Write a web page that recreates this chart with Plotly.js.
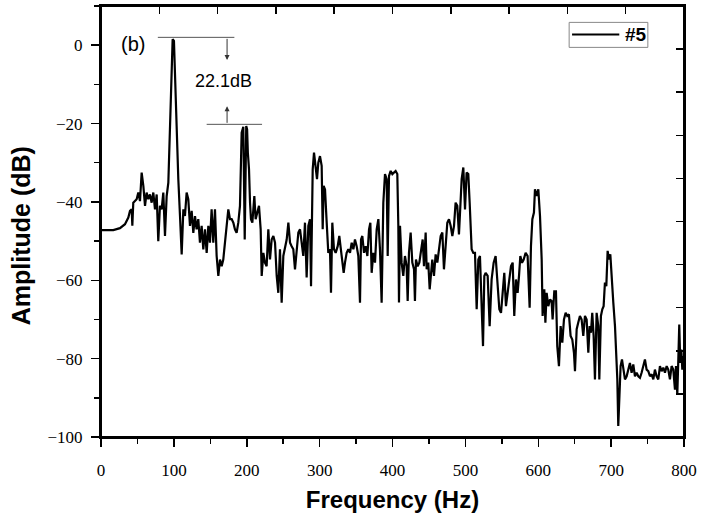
<!DOCTYPE html>
<html>
<head>
<meta charset="utf-8">
<script src="https://cdn.plot.ly/plotly-3.0.1.min.js"></script>
<style>
html, body { margin: 0; padding: 0; background: #fff; }
#plot { width: 703px; height: 520px; }
</style>
</head>
<body>
<div id="plot"></div>
<script>
// spectrum of sensor #5
const freq = [
  0, 7.7, 16.9, 26.0, 32.9, 37.5, 39.8, 42.1, 43.0, 44.3, 48.9, 51.2, 53.5, 55.8, 58.1, 60.4,
  62.6, 64.9, 67.2, 69.5, 71.8, 74.1, 76.4, 78.6, 80.9, 83.2, 85.5, 87.8, 90.1, 92.4, 94.7, 96.9,
  98.3, 100.1, 101.5, 103.8, 106.1, 108.4, 110.7, 113.0, 115.2, 117.5, 119.8, 122.1, 124.4, 126.7,
  129.0, 131.2, 133.5, 135.8, 138.1, 140.4, 142.7, 145.0, 147.3, 149.5, 151.8, 154.1, 156.4, 158.7,
  161.0, 163.3, 165.6, 167.8, 170.1, 172.4, 174.7, 177.0, 179.3, 181.6, 183.8, 186.1, 188.4, 190.7,
  193.0, 195.3, 197.2, 199.3, 200.5, 201.5, 203.1, 204.5, 205.8, 207.7, 210.4, 212.2, 215.0, 216.8,
  219.1, 220.5, 222.8, 225.0, 227.3, 229.6, 231.9, 234.2, 236.5, 238.8, 241.1, 243.3, 245.6, 247.9,
  250.2, 252.5, 254.8, 257.1, 259.4, 261.6, 263.9, 266.2, 268.5, 270.8, 273.1, 275.4, 277.6, 279.9,
  282.2, 284.5, 286.8, 288.2, 289.1, 290.5, 292.3, 294.6, 296.4, 298.2, 300.5, 302.8, 304.2, 305.5,
  307.4, 309.7, 311.9, 314.2, 315.6, 317.4, 319.7, 322.0, 324.8, 327.0, 329.3, 331.2, 333.0, 334.8,
  337.1, 339.4, 341.7, 344.0, 346.3, 348.5, 350.8, 353.1, 355.4, 356.8, 358.6, 360.9, 363.2, 365.5,
  367.8, 369.6, 371.4, 373.7, 376.0, 378.3, 380.6, 382.8, 385.1, 387.4, 389.7, 392.0, 393.4, 395.2,
  397.5, 399.8, 402.1, 404.3, 406.6, 408.0, 408.9, 410.3, 412.5, 414.8, 417.1, 419.4, 420.8, 422.6,
  424.9, 427.2, 429.5, 430.8, 432.2, 434.5, 436.8, 439.1, 441.4, 443.2, 445.5, 446.9, 449.1, 451.0,
  452.8, 454.6, 456.9, 459.2, 461.5, 463.8, 466.1, 468.4, 470.6, 472.9, 475.2, 477.5, 479.8, 482.1,
  484.4, 486.6, 488.9, 491.2, 493.1, 494.9, 497.2, 499.5, 501.7, 504.0, 505.9, 508.6, 510.9, 513.2,
  515.5, 517.8, 520.0, 522.3, 524.2, 526.0, 527.8, 530.6, 533.3, 536.0, 538.8, 541.5, 544.3, 546.6,
  548.9, 551.1, 553.4, 555.7, 558.0, 560.3, 562.6, 564.9, 567.1, 569.4, 571.7, 573.6, 575.4, 577.7,
  580.0, 582.7, 585.4, 588.2, 590.0, 591.9, 594.1, 595.5, 597.8, 600.1, 602.4, 604.7, 606.0, 608.3,
  609.8, 611.5, 613.8, 616.1, 618.3, 619.7, 622.0, 624.3, 626.1, 628.4, 630.7, 633.0, 635.3, 637.6,
  639.8, 642.1, 644.4, 646.7, 649.0, 650.4, 652.7, 654.9, 657.2, 659.5, 661.8, 664.1, 666.4, 668.7,
  670.5, 672.3, 674.1, 676.0, 677.8, 680.1, 682.4, 683.8, 686.0, 687.9, 689.7, 691.5, 693.4, 695.2,
  697.0, 698.9, 700.7, 703.0, 705.3, 706.6, 708.5, 709.8, 711.2, 713.0, 714.9, 717.2, 719.0, 721.3,
  723.6, 725.8, 728.1, 730.4, 732.7, 735.0, 737.3, 739.6, 741.8, 744.1, 746.4, 748.7, 751.0, 753.3,
  755.6, 757.9, 760.1, 762.4, 764.7, 767.0, 769.3, 771.6, 773.9, 776.2, 778.4, 780.7, 783.0, 785.3,
  787.6, 789.0, 790.8, 792.2, 793.5, 794.9, 796.3, 797.7, 799.0, 800
];
const amp = [
  -47.2, -47.2, -47.2, -46.7, -45.7, -44.0, -42.3, -41.9, -46.1, -40.2, -39.3, -37.6, -39.8, -32.5, -35.9, -41.0,
  -37.6, -39.3, -38.1, -40.2, -37.6, -41.9, -38.1, -50.0, -41.0, -41.9, -37.6, -48.7, -38.5, -35.1, -21.5, -4.4,
  1.5, 1.1, -8.7, -21.5, -34.2, -43.6, -53.4, -41.9, -43.6, -37.6, -39.3, -46.1, -42.3, -47.9,
  -43.6, -47.0, -44.4, -50.4, -46.1, -52.1, -47.0, -53.0, -46.1, -50.4, -41.9, -50.4, -41.9, -53.8,
  -58.9, -54.7, -56.4, -54.7, -50.4, -46.1, -41.9, -44.4, -44.4, -45.3, -47.0, -47.9, -45.3, -41.0,
  -22.3, -20.8, -49.6, -20.6, -21.5, -27.4, -31.7, -40.2, -44.4, -45.3, -38.5, -44.4, -41.9, -41.0,
  -47.0, -58.9, -53.0, -55.5, -56.4, -47.0, -54.7, -49.6, -48.7, -50.4, -58.9, -63.2, -52.1, -65.7,
  -53.8, -51.3, -49.6, -45.3, -50.4, -51.3, -52.1, -57.2, -51.3, -47.8, -47.0, -50.4, -53.8, -45.3,
  -59.3, -46.1, -44.4, -61.5, -41.0, -31.7, -27.4, -30.8, -34.2, -30.0, -28.3, -30.8, -47.0, -35.9,
  -36.8, -45.3, -53.0, -52.1, -63.2, -45.3, -52.1, -53.0, -51.3, -48.7, -52.1, -54.7, -58.1, -55.5,
  -53.0, -52.1, -53.0, -50.4, -52.1, -49.6, -51.3, -53.8, -65.7, -49.6, -48.7, -53.0, -51.3, -53.8,
  -47.0, -45.3, -58.1, -53.0, -55.5, -47.0, -44.4, -52.1, -65.7, -40.2, -32.9, -34.2, -53.8, -33.4,
  -32.1, -32.9, -32.5, -32.1, -32.9, -46.1, -65.7, -46.1, -55.5, -58.9, -53.8, -56.4, -65.3, -53.0,
  -47.8, -55.5, -57.2, -65.3, -54.7, -56.4, -55.5, -52.1, -49.6, -56.4, -47.8, -57.2, -55.5, -62.3,
  -58.9, -54.7, -58.9, -53.4, -55.5, -52.1, -48.7, -47.8, -57.2, -51.3, -45.3, -44.4, -46.1, -48.7,
  -46.1, -40.2, -41.0, -48.3, -41.0, -34.2, -31.2, -41.9, -32.5, -32.9, -40.2, -52.1, -53.0, -53.0,
  -67.4, -54.7, -53.8, -64.9, -76.8, -58.9, -58.1, -58.9, -71.7, -59.8, -55.5, -53.8, -61.5, -67.4,
  -68.3, -63.2, -58.1, -66.6, -63.2, -59.8, -56.4, -55.5, -69.1, -59.8, -63.2, -58.9, -53.8, -55.5,
  -54.7, -53.0, -53.8, -67.0, -51.3, -44.4, -42.7, -36.8, -38.5, -36.8, -43.6, -54.7, -69.1, -62.3,
  -70.8, -63.2, -66.6, -64.9, -65.3, -70.0, -62.8, -62.8, -76.8, -81.9, -71.7, -75.9, -70.0, -68.3,
  -69.1, -68.7, -74.2, -75.1, -78.5, -83.2, -72.5, -70.8, -69.1, -70.0, -74.2, -69.1, -70.0, -78.5,
  -71.7, -73.4, -68.3, -74.2, -85.3, -68.3, -71.7, -85.3, -69.1, -67.4, -66.6, -60.6, -61.5, -52.5,
  -54.7, -53.4, -59.8, -65.7, -71.7, -77.7, -85.3, -97.2, -90.4, -81.9, -80.2, -82.8, -85.3, -84.5,
  -82.8, -81.1, -83.6, -81.5, -84.5, -83.6, -84.5, -84.9, -83.6, -81.9, -80.2, -82.8, -83.2, -84.5,
  -84.0, -85.3, -82.8, -84.5, -85.3, -81.9, -83.2, -82.3, -83.6, -81.9, -82.8, -85.3, -81.9, -82.8,
  -87.9, -81.9, -89.2, -80.2, -71.3, -81.1, -77.7, -82.8, -79.4, -80.0
];
const seriesName = "#5";

const xRange = [0, 800];
const yRange = [-100, 10];

const tickFont = { family: "Liberation Serif", size: 17, color: "#000" };
const titleFont = { family: "Liberation Sans", size: 24, weight: "bold", color: "#000" };
const textFont = { family: "Liberation Sans", size: 18, color: "#000" };

const trace = {
  x: freq,
  y: amp,
  type: "scatter",
  mode: "lines",
  name: seriesName,
  showlegend: false,
  line: { color: "#000", width: 2.2 }
};

// empty trace so the top/right tick axes get their own subplot
const frameTrace = {
  x: [], y: [], xaxis: "x2", yaxis: "y2",
  type: "scatter", mode: "lines", showlegend: false, hoverinfo: "skip"
};

const axisBase = {
  showline: true,
  linecolor: "#000",
  linewidth: 2,
  mirror: true,
  showgrid: false,
  zeroline: false,
  tickcolor: "#000",
  tickwidth: 1.5,
  automargin: false
};

const layout = {
  width: 703,
  height: 520,
  margin: { l: 101, r: 19, t: 6, b: 83 },
  paper_bgcolor: "#fff",
  plot_bgcolor: "#fff",
  font: tickFont,
  showlegend: false,
  xaxis: Object.assign({}, axisBase, {
    range: xRange,
    tick0: 0, dtick: 100,
    ticks: "outside", ticklen: 8,
    minor: { dtick: 50, ticks: "outside", ticklen: 5, tickwidth: 1.5, tickcolor: "#000", showgrid: false },
    tickfont: tickFont,
    ticklabelstandoff: 9,
    title: { text: "Frequency (Hz)", font: titleFont, standoff: 12 }
  }),
  yaxis: Object.assign({}, axisBase, {
    range: yRange,
    tick0: 0, dtick: 20,
    ticks: "outside", ticklen: 8,
    minor: { dtick: 10, ticks: "outside", ticklen: 5, tickwidth: 1.5, tickcolor: "#000", showgrid: false },
    tickfont: tickFont,
    ticklabelstandoff: 5
  }),
  // Origin-style top and right axes with their own inside ticks
  xaxis2: Object.assign({}, axisBase, {
    overlaying: "x", side: "top", anchor: "y2",
    range: xRange, tick0: 0, dtick: 80,
    ticks: "inside", ticklen: 8, showticklabels: false
  }),
  yaxis2: Object.assign({}, axisBase, {
    overlaying: "y", side: "right", anchor: "x2",
    range: yRange, tick0: 10, dtick: 11,
    ticks: "inside", ticklen: 8, showticklabels: false
  }),
  shapes: [
    // plot frame
    { type: "rect", xref: "paper", yref: "paper", x0: 0, x1: 1, y0: 0, y1: 1,
      line: { color: "#000", width: 2 }, layer: "above" },
    // 22.1 dB marker lines
    { type: "line", xref: "x", yref: "y", x0: 78, x1: 183, y0: 2.0, y1: 2.0, line: { color: "#555", width: 1 } },
    { type: "line", xref: "x", yref: "y", x0: 145, x1: 221, y0: -20.2, y1: -20.2, line: { color: "#555", width: 1 } },
    // legend box and sample line
    { type: "rect", xref: "paper", yref: "paper", x0: 0.803, x1: 0.938, y0: 0.904, y1: 0.962,
      line: { color: "#888", width: 1 }, fillcolor: "#fff" },
    { type: "line", xref: "paper", yref: "paper", x0: 0.808, x1: 0.889, y0: 0.934, y1: 0.934,
      line: { color: "#000", width: 2 } }
  ],
  annotations: [
    { text: seriesName, xref: "paper", yref: "paper", x: 0.918, y: 0.934,
      xanchor: "center", yanchor: "middle", showarrow: false,
      font: { family: "Liberation Sans", size: 19, weight: "bold", color: "#000" } },
    { text: "Amplitude (dB)", xref: "paper", yref: "paper", x: -0.137, y: 0.466,
      xanchor: "center", yanchor: "middle",
      textangle: -90, showarrow: false, font: Object.assign({}, titleFont, { size: 25 }) },
    { text: "(b)", xref: "x", yref: "y", x: 44, y: 0.3, showarrow: false,
      font: Object.assign({}, textFont, { size: 20 }) },
    { text: "22.1dB", xref: "x", yref: "y", x: 167.5, y: -9.2, showarrow: false, font: textFont },
    { text: "", xref: "x", yref: "y", x: 173, y: -3.8, axref: "x", ayref: "y", ax: 173, ay: 2.0,
      showarrow: true, arrowhead: 2, arrowsize: 1, arrowwidth: 1, arrowcolor: "#333" },
    { text: "", xref: "x", yref: "y", x: 173, y: -15.6, axref: "x", ayref: "y", ax: 173, ay: -20.2,
      showarrow: true, arrowhead: 2, arrowsize: 1, arrowwidth: 1, arrowcolor: "#333" }
  ]
};

Plotly.newPlot("plot", [trace, frameTrace], layout, { displayModeBar: false, staticPlot: true });
</script>
</body>
</html>
